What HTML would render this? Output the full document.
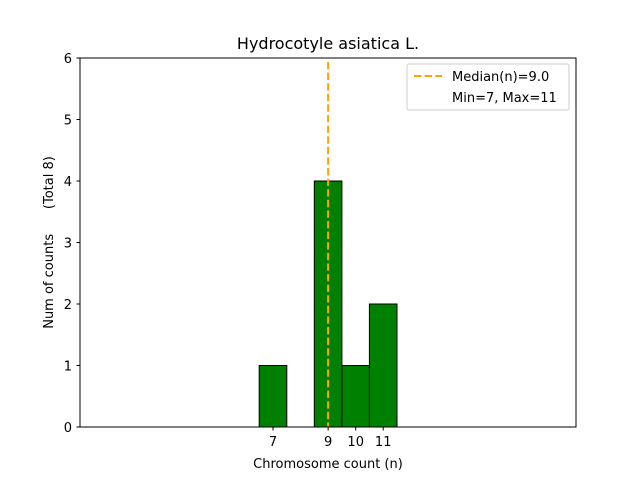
<!DOCTYPE html>
<html><head><style>body{margin:0;background:#fff}svg{display:block}</style></head><body>
<svg width="640" height="480" xmlns="http://www.w3.org/2000/svg" font-family="DejaVu Sans, Liberation Sans, sans-serif">
<rect width="640" height="480" fill="#fff"/>
<text x="328" y="49" font-size="16" text-anchor="middle">Hydrocotyle asiatica L.</text>
<g fill="#008000" stroke="#000" stroke-width="1">
<rect x="259.2" y="365.5" width="27.6" height="61.5"/>
<rect x="314.3" y="181" width="27.6" height="246"/>
<rect x="341.9" y="365.5" width="27.6" height="61.5"/>
<rect x="369.4" y="304" width="27.6" height="123"/>
</g>
<line x1="328.1" y1="62" x2="328.1" y2="427" stroke="#ffa500" stroke-width="2" stroke-dasharray="7.4,3.2"/>
<rect x="80" y="58" width="496" height="369" fill="none" stroke="#000" stroke-width="1"/>
<g stroke="#000" stroke-width="1">
<line x1="80" y1="427" x2="76.5" y2="427"/><line x1="80" y1="365.5" x2="76.5" y2="365.5"/>
<line x1="80" y1="304" x2="76.5" y2="304"/><line x1="80" y1="242.5" x2="76.5" y2="242.5"/>
<line x1="80" y1="181" x2="76.5" y2="181"/><line x1="80" y1="119.5" x2="76.5" y2="119.5"/>
<line x1="80" y1="58" x2="76.5" y2="58"/>
<line x1="273" y1="427" x2="273" y2="430.5"/><line x1="328.1" y1="427" x2="328.1" y2="430.5"/>
<line x1="355.7" y1="427" x2="355.7" y2="430.5"/><line x1="383.2" y1="427" x2="383.2" y2="430.5"/>
</g>
<g font-size="13" text-anchor="end">
<text x="72" y="432">0</text><text x="72" y="370.5">1</text><text x="72" y="309">2</text>
<text x="72" y="247.5">3</text><text x="72" y="186">4</text><text x="72" y="124.5">5</text><text x="72" y="63">6</text>
</g>
<g font-size="13" text-anchor="middle">
<text x="273" y="446">7</text><text x="328.1" y="446">9</text><text x="355.7" y="446">10</text><text x="383.2" y="446">11</text>
<text x="328" y="468">Chromosome count (n)</text>
</g>
<text transform="translate(53,242.5) rotate(-90)" font-size="13" text-anchor="middle" style="white-space:pre">Num of counts      (Total 8)</text>
<rect x="407" y="64" width="162" height="46" rx="2" fill="#fff" stroke="#ccc" stroke-width="1"/>
<line x1="414" y1="76" x2="442" y2="76" stroke="#ffa500" stroke-width="2" stroke-dasharray="7.4,3.2"/>
<text x="452" y="81" font-size="13">Median(n)=9.0</text>
<text x="452" y="102" font-size="13">Min=7, Max=11</text>
</svg>
</body></html>
